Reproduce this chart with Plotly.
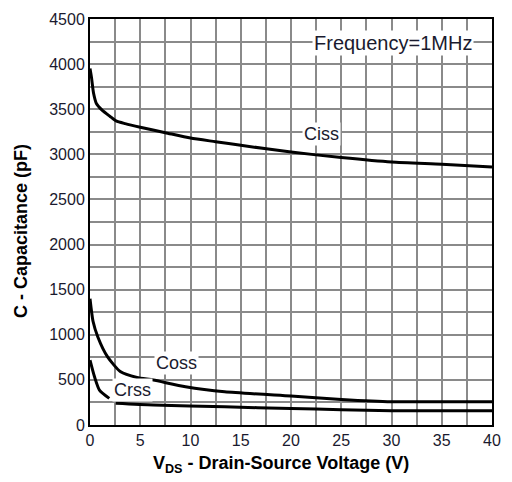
import plotly.graph_objects as go

vds_ciss = [0, 0.15, 0.35, 0.65, 1.2, 2.0, 2.6, 3.5, 5, 7.5, 10, 12.5, 15, 20, 25, 30, 35, 40]
ciss = [3950, 3850, 3680, 3560, 3490, 3420, 3370, 3340, 3300, 3240, 3180, 3140, 3100, 3025, 2965, 2915, 2890, 2860]

vds_coss = [0, 0.3, 0.78, 1.75, 3.05, 4.67, 6.3, 9.5, 13.4, 20, 25, 30, 35, 40]
coss = [1400, 1150, 976, 755, 589, 527, 498, 424, 368, 321, 284, 258, 258, 258]

vds_crss = [0, 0.45, 0.94, 1.92, None, 2.56, 6.3, 13.4, 20, 25, 30, 35, 40]
crss = [719, 534, 387, 295, None, 240, 221, 202, 182, 170, 158, 158, 158]

x_ticks = [0, 5, 10, 15, 20, 25, 30, 35, 40]
y_ticks = [0, 500, 1000, 1500, 2000, 2500, 3000, 3500, 4000, 4500]

labels = [
    ("Ciss", 23.0, 3229, 18),
    ("Coss", 8.56, 682, 18),
    ("Crss", 4.25, 387, 18),
    ("Frequency=1MHz", 30.17, 4229, 20),
]

font_family = "Liberation Sans, Arial, sans-serif"
text_col = "#1a1a2e"

fig = go.Figure()
for xs, ys in [(vds_ciss, ciss), (vds_coss, coss), (vds_crss, crss)]:
    fig.add_trace(go.Scatter(x=xs, y=ys, mode="lines",
                             line=dict(color="black", width=3, shape="spline", smoothing=0.6),
                             connectgaps=False, showlegend=False, hoverinfo="skip"))

for txt, x, y, sz in labels:
    fig.add_annotation(x=x, y=y, text=txt, showarrow=False, bgcolor="white",
                       font=dict(family=font_family, size=sz, color=text_col),
                       borderpad=1)

fig.add_annotation(xref="paper", yref="paper", x=-0.170, y=0.477, xanchor="center", yanchor="middle",
                   text="<b>C - Capacitance (pF)</b>", textangle=-90, showarrow=False,
                   font=dict(family=font_family, size=18, color="black"))
fig.add_annotation(xref="paper", yref="paper", x=0.474, y=-0.098, xanchor="center", yanchor="middle",
                   text="<b>V<sub>DS</sub> - Drain-Source Voltage (V)</b>", showarrow=False,
                   font=dict(family=font_family, size=18, color="black"))

fig.update_xaxes(range=[0, 40], tickvals=x_ticks, ticktext=[str(v) for v in x_ticks],
                 showgrid=True, gridcolor="#8a8a8a", gridwidth=1.5,
                 minor=dict(dtick=2.5, showgrid=True, gridcolor="#8a8a8a", gridwidth=1.5),
                 showline=True, linecolor="black", linewidth=2, mirror=True,
                 zeroline=False, ticks="", ticklen=0,
                 tickfont=dict(family=font_family, size=16, color=text_col))
fig.update_yaxes(range=[0, 4500], tickvals=y_ticks, ticktext=[str(v) for v in y_ticks],
                 showgrid=True, gridcolor="#8a8a8a", gridwidth=1.5,
                 minor=dict(dtick=250, showgrid=True, gridcolor="#8a8a8a", gridwidth=1.5),
                 showline=True, linecolor="black", linewidth=2, mirror=True,
                 zeroline=False, ticks="", ticklen=0,
                 tickfont=dict(family=font_family, size=16, color=text_col))

fig.update_layout(width=512, height=482, margin=dict(l=90, r=11, t=18, b=57),
                  plot_bgcolor="white", paper_bgcolor="white")
fig.write_html("out.html")
